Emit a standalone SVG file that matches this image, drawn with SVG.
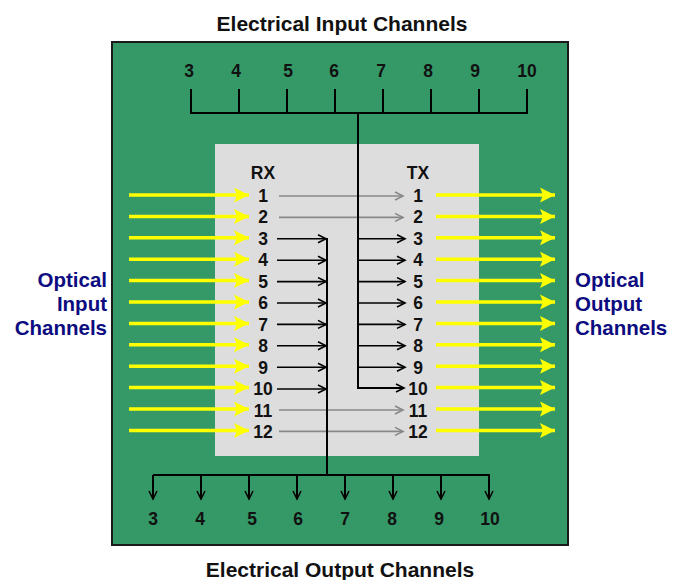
<svg xmlns="http://www.w3.org/2000/svg" width="684" height="580" viewBox="0 0 684 580">
<style>
text{font-family:"Liberation Sans",Arial,sans-serif;font-weight:bold}
.num{font-size:17.5px;fill:#111;text-anchor:middle}
.title{font-size:21px;fill:#111;text-anchor:middle}
.opt{font-size:20.5px;fill:#0c0c80}
.yl{stroke:#ffff00;stroke-width:3.5;fill:none}
.bk{stroke:#000;stroke-width:1.6;fill:none}
.gy{stroke:#888;stroke-width:1.6;fill:none}
.bus{stroke:#000;stroke-width:2;fill:none}
</style>
<defs>
<marker id="ay" markerUnits="userSpaceOnUse" markerWidth="18" markerHeight="18" refX="15" refY="8" orient="auto"><path d="M0,0.5 L15,8 L0,15.5 L3,8 Z" fill="#ffff00"/></marker>
<marker id="ab" markerUnits="userSpaceOnUse" markerWidth="12" markerHeight="12" refX="9" refY="5" orient="auto"><path d="M1,1 L9,5 L1,9" fill="none" stroke="#000" stroke-width="1.6"/></marker>
<marker id="ag" markerUnits="userSpaceOnUse" markerWidth="12" markerHeight="12" refX="9" refY="5" orient="auto"><path d="M1,1 L9,5 L1,9" fill="none" stroke="#888" stroke-width="1.6"/></marker>
</defs>
<rect width="684" height="580" fill="#fff"/>
<g id="board"><rect x="112" y="42" width="456" height="503" fill="#349967" stroke="#1a1a1a" stroke-width="2"/></g>
<g id="chip"><rect x="215" y="144" width="264" height="312" fill="#dddddd"/></g>
<g id="titles">
<text class="title" x="342" y="31">Electrical Input Channels</text>
<text class="title" x="340" y="577">Electrical Output Channels</text>
<text class="opt" x="107" y="287" text-anchor="end">Optical</text>
<text class="opt" x="107" y="311" text-anchor="end">Input</text>
<text class="opt" x="107" y="335" text-anchor="end">Channels</text>
<text class="opt" x="575" y="287">Optical</text>
<text class="opt" x="575" y="311">Output</text>
<text class="opt" x="575" y="335">Channels</text>
</g>
<g id="connectors">
<g class="yl" marker-end="url(#ay)">
<line x1="129" y1="195" x2="249" y2="195"/><line x1="129" y1="216.4" x2="249" y2="216.4"/><line x1="129" y1="237.8" x2="249" y2="237.8"/><line x1="129" y1="259.2" x2="249" y2="259.2"/><line x1="129" y1="280.6" x2="249" y2="280.6"/><line x1="129" y1="302" x2="249" y2="302"/><line x1="129" y1="323.4" x2="249" y2="323.4"/><line x1="129" y1="344.8" x2="249" y2="344.8"/><line x1="129" y1="366.2" x2="249" y2="366.2"/><line x1="129" y1="387.6" x2="249" y2="387.6"/><line x1="129" y1="409" x2="249" y2="409"/><line x1="129" y1="430.4" x2="249" y2="430.4"/>
</g>
<g class="yl" marker-end="url(#ay)">
<line x1="436" y1="195" x2="555" y2="195"/><line x1="436" y1="216.4" x2="555" y2="216.4"/><line x1="436" y1="237.8" x2="555" y2="237.8"/><line x1="436" y1="259.2" x2="555" y2="259.2"/><line x1="436" y1="280.6" x2="555" y2="280.6"/><line x1="436" y1="302" x2="555" y2="302"/><line x1="436" y1="323.4" x2="555" y2="323.4"/><line x1="436" y1="344.8" x2="555" y2="344.8"/><line x1="436" y1="366.2" x2="555" y2="366.2"/><line x1="436" y1="387.6" x2="555" y2="387.6"/><line x1="436" y1="409" x2="555" y2="409"/><line x1="436" y1="430.4" x2="555" y2="430.4"/>
</g>
<g class="gy" marker-end="url(#ag)">
<line x1="279" y1="196" x2="403" y2="196"/><line x1="279" y1="217.4" x2="403" y2="217.4"/><line x1="279" y1="410" x2="403" y2="410"/><line x1="279" y1="431.4" x2="403" y2="431.4"/>
</g>
<path class="bus" d="M191,89 V113 H527 V89 M239,89 V113 M287,89 V113 M335,89 V113 M383,89 V113 M431,89 V113 M479,89 V113"/>
<path class="bus" d="M358,113 V388 H404" marker-end="url(#ab)"/>
<g class="bk" marker-end="url(#ab)">
<line x1="357" y1="238.8" x2="405" y2="238.8"/><line x1="357" y1="260.2" x2="405" y2="260.2"/><line x1="357" y1="281.6" x2="405" y2="281.6"/><line x1="357" y1="303" x2="405" y2="303"/><line x1="357" y1="324.4" x2="405" y2="324.4"/><line x1="357" y1="345.8" x2="405" y2="345.8"/><line x1="357" y1="367.2" x2="405" y2="367.2"/>
</g>
<g class="bk" marker-end="url(#ab)">
<line x1="277" y1="238.8" x2="326" y2="238.8"/><line x1="277" y1="260.2" x2="326" y2="260.2"/><line x1="277" y1="281.6" x2="326" y2="281.6"/><line x1="277" y1="303" x2="326" y2="303"/><line x1="277" y1="324.4" x2="326" y2="324.4"/><line x1="277" y1="345.8" x2="326" y2="345.8"/><line x1="277" y1="367.2" x2="326" y2="367.2"/><line x1="277" y1="389" x2="326" y2="389"/>
</g>
<path class="bus" d="M327,238 V475 M153,475 H490"/>
<g class="bus" marker-end="url(#ab)">
<line x1="153" y1="475" x2="153" y2="499"/><line x1="201" y1="475" x2="201" y2="499"/><line x1="249" y1="475" x2="249" y2="499"/><line x1="297" y1="475" x2="297" y2="499"/><line x1="345" y1="475" x2="345" y2="499"/><line x1="393" y1="475" x2="393" y2="499"/><line x1="441" y1="475" x2="441" y2="499"/><line x1="489" y1="475" x2="489" y2="499"/>
</g>
</g>
<g id="top-labels">
<text class="num" x="189" y="77">3</text><text class="num" x="236" y="77">4</text><text class="num" x="288" y="77">5</text><text class="num" x="334" y="77">6</text><text class="num" x="381" y="77">7</text><text class="num" x="428" y="77">8</text><text class="num" x="475" y="77">9</text><text class="num" x="527" y="77">10</text>
</g>
<g id="bottom-labels">
<text class="num" x="153" y="525">3</text><text class="num" x="200" y="525">4</text><text class="num" x="252" y="525">5</text><text class="num" x="298" y="525">6</text><text class="num" x="345" y="525">7</text><text class="num" x="392" y="525">8</text><text class="num" x="439" y="525">9</text><text class="num" x="490" y="525">10</text>
</g>
<g id="rx">
<text class="num" x="263" y="179">RX</text>
<text class="num" x="263" y="201.5">1</text><text class="num" x="263" y="223">2</text><text class="num" x="263" y="244.5">3</text><text class="num" x="263" y="266">4</text><text class="num" x="263" y="287.5">5</text><text class="num" x="263" y="309">6</text><text class="num" x="263" y="330.5">7</text><text class="num" x="263" y="352">8</text><text class="num" x="263" y="373.5">9</text><text class="num" x="263" y="395">10</text><text class="num" x="263" y="416.5">11</text><text class="num" x="263" y="438">12</text>
</g>
<g id="tx">
<text class="num" x="418" y="179">TX</text>
<text class="num" x="418" y="201.5">1</text><text class="num" x="418" y="223">2</text><text class="num" x="418" y="244.5">3</text><text class="num" x="418" y="266">4</text><text class="num" x="418" y="287.5">5</text><text class="num" x="418" y="309">6</text><text class="num" x="418" y="330.5">7</text><text class="num" x="418" y="352">8</text><text class="num" x="418" y="373.5">9</text><text class="num" x="418" y="395">10</text><text class="num" x="418" y="416.5">11</text><text class="num" x="418" y="438">12</text>
</g>
</svg>
